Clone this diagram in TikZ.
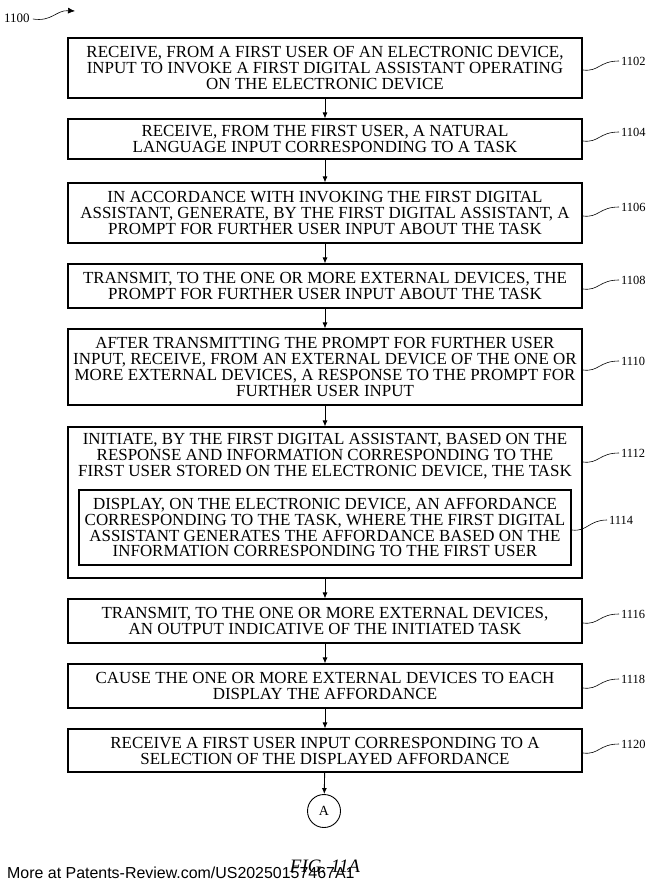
\documentclass[tikz,border=0pt]{standalone}
\usepackage{fontspec}
\setmainfont{Liberation Serif}
\newfontfamily\footfont{Liberation Sans}
\usetikzlibrary{arrows.meta}
\begin{document}
\begin{tikzpicture}[x=1bp,y=-1bp,
  stepbox/.style={draw, line width=1.1bp, minimum width=514bp, inner sep=0pt, align=center,
    font=\fontsize{17}{16}\selectfont},
  txt/.style={inner sep=0pt, align=center, font=\fontsize{17}{16}\selectfont},
  lab/.style={inner sep=0pt, anchor=west, font=\fontsize{12.5}{14}\selectfont},
  lead/.style={line width=0.6bp},
  flow/.style={line width=0.9bp, -{Latex[length=6bp,width=5bp]}}]
\useasboundingbox (0,0) rectangle (655,888);
\node[stepbox, minimum height=60bp] (b1102) at (325,68) {RECEIVE, FROM A FIRST USER OF AN ELECTRONIC DEVICE,\\INPUT TO INVOKE A FIRST DIGITAL ASSISTANT OPERATING\\ON THE ELECTRONIC DEVICE};
\node[stepbox, minimum height=40bp] (b1104) at (325,139) {RECEIVE, FROM THE FIRST USER, A NATURAL\\LANGUAGE INPUT CORRESPONDING TO A TASK};
\node[stepbox, minimum height=60bp] (b1106) at (325,213) {IN ACCORDANCE WITH INVOKING THE FIRST DIGITAL\\ASSISTANT, GENERATE, BY THE FIRST DIGITAL ASSISTANT, A\\PROMPT FOR FURTHER USER INPUT ABOUT THE TASK};
\node[stepbox, minimum height=44bp] (b1108) at (325,286) {TRANSMIT, TO THE ONE OR MORE EXTERNAL DEVICES, THE\\PROMPT FOR FURTHER USER INPUT ABOUT THE TASK};
\node[stepbox, minimum height=76bp] (b1110) at (325,367) {AFTER TRANSMITTING THE PROMPT FOR FURTHER USER\\INPUT, RECEIVE, FROM AN EXTERNAL DEVICE OF THE ONE OR\\MORE EXTERNAL DEVICES, A RESPONSE TO THE PROMPT FOR\\FURTHER USER INPUT};
\node[stepbox, minimum height=151bp] (b1112) at (325,502.5) {};
\node[txt] (t1112) at (325,456) {INITIATE, BY THE FIRST DIGITAL ASSISTANT, BASED ON THE\\RESPONSE AND INFORMATION CORRESPONDING TO THE\\FIRST USER STORED ON THE ELECTRONIC DEVICE, THE TASK};
\node[stepbox, minimum width=492bp, minimum height=75bp] (b1114) at (325,527.5) {DISPLAY, ON THE ELECTRONIC DEVICE, AN AFFORDANCE\\CORRESPONDING TO THE TASK, WHERE THE FIRST DIGITAL\\ASSISTANT GENERATES THE AFFORDANCE BASED ON THE\\INFORMATION CORRESPONDING TO THE FIRST USER};
\node[stepbox, minimum height=44bp] (b1116) at (325,621) {TRANSMIT, TO THE ONE OR MORE EXTERNAL DEVICES,\\AN OUTPUT INDICATIVE OF THE INITIATED TASK};
\node[stepbox, minimum height=44bp] (b1118) at (325,686) {CAUSE THE ONE OR MORE EXTERNAL DEVICES TO EACH\\DISPLAY THE AFFORDANCE};
\node[stepbox, minimum height=43bp] (b1120) at (325,750.5) {RECEIVE A FIRST USER INPUT CORRESPONDING TO A\\SELECTION OF THE DISPLAYED AFFORDANCE};
\node[draw, circle, line width=0.9bp, minimum size=33bp, inner sep=0pt, font=\fontsize{14}{16}\selectfont] (A) at (324,811) {A};

\draw[flow] (b1102) -- (b1104);
\draw[flow] (b1104) -- (b1106);
\draw[flow] (b1106) -- (b1108);
\draw[flow] (b1108) -- (b1110);
\draw[flow] (b1110) -- (b1112);
\draw[flow] (b1112) -- (b1116);
\draw[flow] (b1116) -- (b1118);
\draw[flow] (b1118) -- (b1120);
\draw[flow] (b1120) -- (A);

% labels
\node[lab, font=\fontsize{13}{14}\selectfont] (l1100) at (4,18) {1100};
\coordinate (e1100) at (75,11);
\draw[lead, -{Latex[length=7bp,width=6bp]}] (l1100.east) ++(3,1) .. controls (52,22) and (56,10) .. (e1100);

\foreach \n/\y/\ya in {1102/61/70, 1104/132/141, 1106/207/216, 1108/280/289, 1110/361/370, 1112/453/462, 1116/614/623, 1118/679/688, 1120/744/753} {
  \node[lab] (l\n) at (621,\y) {\n};
  \coordinate (s\n) at (583,\ya);
  \draw[lead] (s\n) .. controls (599,72-61+\y) and (599,\y) .. ([xshift=-2bp]l\n.west);
}
\node[lab] (l1114) at (609,520) {1114};
\coordinate (s1114) at (572,530);
\draw[lead] (s1114) .. controls (587,532) and (589,520) .. ([xshift=-2bp]l1114.west);

\node[inner sep=0pt, font=\fontsize{19}{20}\selectfont\itshape] (fig) at (325,866) {FIG. 11A};
\node[inner sep=0pt, anchor=west, font=\footfont\fontsize{16}{18}\selectfont] (foot) at (7,873) {More at Patents-Review.com/US20250157467A1};
\end{tikzpicture}
\end{document}
